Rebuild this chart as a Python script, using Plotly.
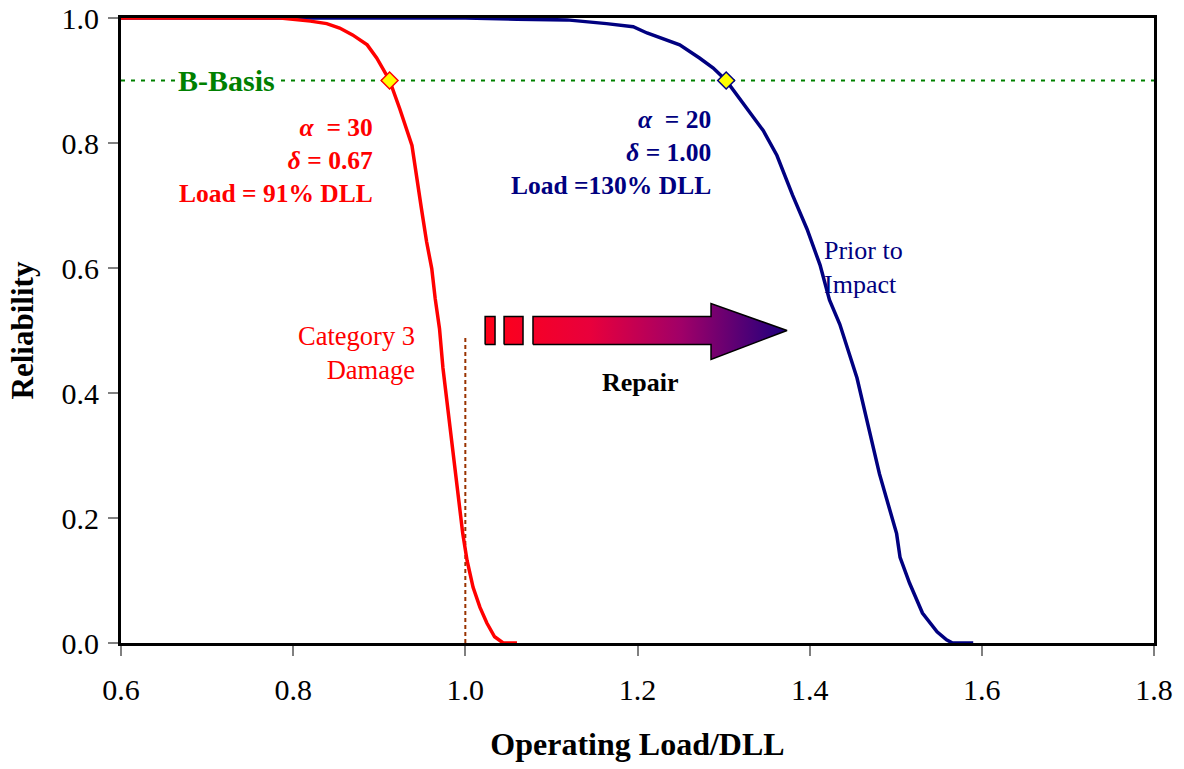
import plotly.graph_objects as go

# Reliability curves
red_x = [0.600, 0.785, 0.820, 0.839, 0.854, 0.869, 0.886, 0.897, 0.912, 0.924, 0.938, 0.944, 0.949,
         0.955, 0.961, 0.965, 0.970, 0.974, 0.981, 0.984, 0.994, 0.997, 1.002, 1.009, 1.017, 1.025,
         1.034, 1.044, 1.060]
red_y = [1.000, 1.000, 0.995, 0.991, 0.984, 0.973, 0.957, 0.936, 0.900, 0.854, 0.796, 0.737, 0.695,
         0.642, 0.599, 0.551, 0.503, 0.440, 0.360, 0.334, 0.217, 0.175, 0.132, 0.089, 0.057, 0.032,
         0.010, 0.000, 0.000]

blue_x = [0.600, 1.000, 1.060, 1.118, 1.164, 1.195, 1.211, 1.249, 1.272, 1.288, 1.303, 1.322, 1.346,
          1.362, 1.380, 1.397, 1.412, 1.423, 1.435, 1.455, 1.462, 1.481, 1.501, 1.505, 1.516, 1.531,
          1.548, 1.559, 1.566, 1.590]
blue_y = [1.000, 1.000, 0.998, 0.997, 0.991, 0.986, 0.976, 0.957, 0.936, 0.920, 0.900, 0.865, 0.820,
          0.780, 0.717, 0.662, 0.605, 0.549, 0.510, 0.424, 0.382, 0.271, 0.175, 0.137, 0.096, 0.048,
          0.018, 0.005, 0.000, 0.000]

b_basis = 0.9
red_point = [0.912]
blue_point = [1.303]
damage_load = 1.0
damage_line_top = 0.49

x_ticks = [0.6, 0.8, 1.0, 1.2, 1.4, 1.6, 1.8]
y_ticks = [0.0, 0.2, 0.4, 0.6, 0.8, 1.0]

# Repair arrow outline (data coordinates)
arrow_small1_x = [1.023, 1.0345, 1.0345, 1.023, 1.023]
arrow_small2_x = [1.045, 1.067, 1.067, 1.045, 1.045]
arrow_box_y = [0.4777, 0.4777, 0.5223, 0.5223, 0.4777]
arrow_main_x = [1.0786, 1.2854, 1.2854, 1.3737, 1.2854, 1.2854, 1.0786, 1.0786]
arrow_main_y = [0.4777, 0.4777, 0.4538, 0.5, 0.5430, 0.5223, 0.5223, 0.4777]

RED = "#FF0000"
NAVY = "#000080"
GREEN = "#008000"
SERIF = "Liberation Serif, Times New Roman, serif"

grad = dict(type="horizontal", start=1.023, stop=1.3737,
            colorscale=[[0, "#FF0018"], [0.35, "#E8003C"], [0.65, "#A00068"], [1, "#1E007E"]])

fig = go.Figure()

for xs, ys in [(arrow_small1_x, arrow_box_y), (arrow_small2_x, arrow_box_y), (arrow_main_x, arrow_main_y)]:
    fig.add_trace(go.Scatter(x=xs, y=ys, mode="lines", fill="toself", fillgradient=grad,
                             line=dict(color="black", width=1.5), hoverinfo="skip", showlegend=False))

fig.add_trace(go.Scatter(x=blue_x, y=blue_y, mode="lines", line=dict(color=NAVY, width=3.5),
                         showlegend=False, name="Prior to Impact"))
fig.add_trace(go.Scatter(x=red_x, y=red_y, mode="lines", line=dict(color=RED, width=3.5),
                         showlegend=False, name="Category 3 Damage"))
fig.add_trace(go.Scatter(x=red_point, y=[b_basis], mode="markers",
                         marker=dict(symbol="diamond", size=13, color="#FFFF00", line=dict(color=RED, width=1.5)),
                         showlegend=False))
fig.add_trace(go.Scatter(x=blue_point, y=[b_basis], mode="markers",
                         marker=dict(symbol="diamond", size=13, color="#FFFF00", line=dict(color=NAVY, width=1.5)),
                         showlegend=False))

fig.add_shape(type="line", x0=0.6, x1=1.8, y0=b_basis, y1=b_basis, xref="x", yref="y",
              line=dict(color=GREEN, width=2, dash="4px,6px"), layer="below")
fig.add_shape(type="line", x0=damage_load, x1=damage_load, y0=0, y1=damage_line_top, xref="x", yref="y",
              line=dict(color="#993300", width=2, dash="4px,3px"), layer="below")

ann = [
    dict(x=0.7231, y=b_basis, text="<b>B-Basis</b>", font=dict(color=GREEN, size=30),
         xanchor="center", yanchor="middle", bgcolor="white", borderpad=0),
    dict(x=0.895, y=0.772, text="<b><i>α</i>  = 30</b><br><b><i>δ</i> = 0.67</b><br><b>Load = 91% DLL</b>",
         font=dict(color=RED, size=25.5), xanchor="right", yanchor="middle", align="right"),
    dict(x=1.2877, y=0.785, text="<b><i>α</i>  = 20</b><br><b><i>δ</i> = 1.00</b><br><b>Load =130% DLL</b>",
         font=dict(color=NAVY, size=25.5), xanchor="right", yanchor="middle", align="right"),
    dict(x=1.4144, y=0.601, text="Prior to<br>Impact", font=dict(color=NAVY, size=26),
         xanchor="left", yanchor="middle", align="left"),
    dict(x=0.9439, y=0.4634, text="Category 3<br>Damage", font=dict(color=RED, size=26.5),
         xanchor="right", yanchor="middle", align="right"),
    dict(x=1.2029, y=0.4172, text="<b>Repair</b>", font=dict(color="black", size=26),
         xanchor="center", yanchor="middle"),
]
for a in ann:
    fig.add_annotation(xref="x", yref="y", showarrow=False, **a)

axis_common = dict(showline=True, linecolor="black", linewidth=3, mirror=True,
                   ticks="outside", ticklen=10, tickwidth=1.5, tickcolor="#808080",
                   showgrid=False, zeroline=False, ticklabeloverflow="allow",
                   tickfont=dict(family=SERIF, size=30, color="black"))

fig.update_layout(
    width=1184, height=769,
    margin=dict(l=121, r=30, t=18, b=126),
    paper_bgcolor="white", plot_bgcolor="white",
    font=dict(family=SERIF, color="black"),
    xaxis=dict(range=[0.6, 1.8], tickvals=x_ticks, ticktext=[f"{v:.1f}" for v in x_ticks],
               ticklabelstandoff=8,
               title=dict(text="<b>Operating Load/DLL</b>", font=dict(family=SERIF, size=32), standoff=28),
               **axis_common),
    yaxis=dict(range=[0.0, 1.0], tickvals=y_ticks, ticktext=[f"{v:.1f}" for v in y_ticks],
               ticklabelstandoff=3,
               title=dict(text="<b>Reliability</b>", font=dict(family=SERIF, size=31), standoff=19),
               **axis_common),
)
fig.update_xaxes(automargin=False)
fig.update_yaxes(automargin=False)

fig.write_html("out.html")
